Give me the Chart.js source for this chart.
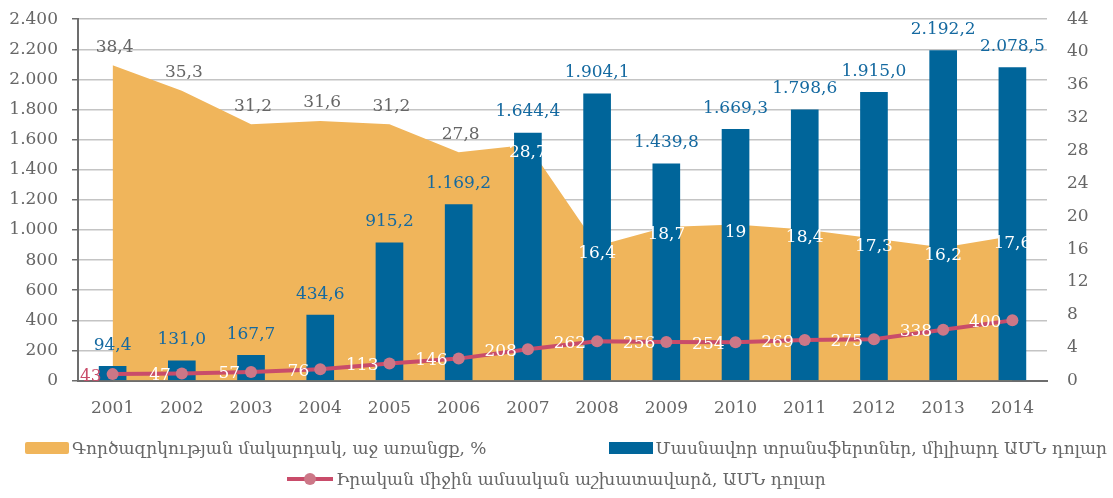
<!DOCTYPE html>
<html>
<head>
<meta charset="utf-8">
<title>Transfers</title>
<script src="https://cdn.jsdelivr.net/npm/chart.js@4.4.1/dist/chart.umd.min.js"></script>
<style>
  body { margin: 0; background: #fff; }
  #wrap { width: 1113px; height: 498px; position: relative; overflow: hidden; }
  #chart { position: absolute; left: 0; top: -11px; }
  .legend { position: absolute; left: 0; top: 432px; width: 1113px;
            font-family: 'DejaVu Serif', 'DejaVu Sans', serif; font-size: 17px; color: #666; }
  .row { display: flex; align-items: center; height: 31px; }
  .row1 { justify-content: space-between; padding: 0 6px 0 25px; }
  .row2 { justify-content: center; }
  .item { display: flex; align-items: center; white-space: nowrap; }
  .sw { display: inline-block; width: 44px; height: 12px; margin-right: 3px; border-radius: 2px; }
  .ln { position: relative; width: 46px; height: 4px; margin-right: 3px; }
  .ln i { position: absolute; left: 17px; top: -4px; width: 12px; height: 12px; border-radius: 50%; }
</style>
</head>
<body>
<div id="wrap">
  <canvas id="chart" width="1113" height="509"></canvas>
  <div class="legend" id="legend"></div>
</div>
<script>
// years and series
var years = ["2001","2002","2003","2004","2005","2006","2007","2008","2009","2010","2011","2012","2013","2014"];
var unemployment = [38.4, 35.3, 31.2, 31.6, 31.2, 27.8, 28.7, 16.4, 18.7, 19, 18.4, 17.3, 16.2, 17.6];
var transfers = [94.4, 131.0, 167.7, 434.6, 915.2, 1169.2, 1644.4, 1904.1, 1439.8, 1669.3, 1798.6, 1915.0, 2192.2, 2078.5];
var wages = [43, 47, 57, 76, 113, 146, 208, 262, 256, 254, 269, 275, 338, 400];

var seriesNames = [
  "Գործազրկության մակարդակ, աջ առանցք, %",
  "Մասնավոր տրանսֆերտներ, միլիարդ ԱՄՆ դոլար",
  "Իրական միջին ամսական աշխատավարձ, ԱՄՆ դոլար"
];

var FONT = "'DejaVu Serif', 'DejaVu Sans', serif";
var ORANGE = '#f0b55b', BLUE = '#00659a', PINK = '#c94c6a', PINK_DOT = '#cc7787', GREY = '#666666';

function thousands(s) {
  var parts = s.split('.');
  parts[0] = parts[0].replace(/\B(?=(\d{3})+(?!\d))/g, '.');
  return parts.join(',');
}

// draws the value labels like the excel original
var valueLabels = {
  id: 'valueLabels',
  afterDatasetsDraw: function(chart) {
    var ctx = chart.ctx;
    ctx.save();
    ctx.font = '17px ' + FONT;
    ctx.textBaseline = 'middle';

    var area = chart.getDatasetMeta(0).data;
    ctx.textAlign = 'center';
    area.forEach(function(p, i) {
      var txt = String(unemployment[i]).replace('.', ',');
      if (i < 6) { ctx.fillStyle = GREY; ctx.fillText(txt, p.x + 2, p.y - 18); }
      else { ctx.fillStyle = '#fff'; ctx.fillText(txt, p.x, p.y + 8); }
    });

    var bars = chart.getDatasetMeta(1).data;
    ctx.fillStyle = '#1469a0';
    bars.forEach(function(b, i) {
      ctx.fillText(thousands(transfers[i].toFixed(1)), b.x, b.y - 21);
    });

    var pts = chart.getDatasetMeta(2).data;
    ctx.textAlign = 'right';
    pts.forEach(function(p, i) {
      ctx.fillStyle = i === 0 ? PINK : '#fff';
      ctx.fillText(String(wages[i]), p.x - 11, p.y + 2);
    });
    ctx.restore();
  }
};

var chart = new Chart(document.getElementById('chart').getContext('2d'), {
  data: {
    labels: years,
    datasets: [
      {
        type: 'line',
        label: seriesNames[0],
        data: unemployment,
        yAxisID: 'y1',
        backgroundColor: ORANGE,
        borderWidth: 0,
        pointRadius: 0,
        fill: 'origin',
        order: 3
      },
      {
        type: 'bar',
        label: seriesNames[1],
        data: transfers,
        yAxisID: 'y',
        backgroundColor: BLUE,
        barThickness: 27,
        order: 2
      },
      {
        type: 'line',
        label: seriesNames[2],
        data: wages,
        yAxisID: 'y',
        borderColor: PINK,
        borderWidth: 4,
        pointRadius: 6,
        pointBackgroundColor: PINK_DOT,
        pointBorderWidth: 0,
        fill: false,
        order: 1
      }
    ]
  },
  options: {
    responsive: false,
    animation: false,
    layout: { padding: { left: 8, right: 22, top: 0, bottom: 61 } },
    plugins: {
      legend: { display: false },
      tooltip: { enabled: false }
    },
    scales: {
      x: {
        grid: { display: false, drawTicks: false },
        border: { color: '#6d6d6d', width: 2 },
        ticks: { color: GREY, font: { family: FONT, size: 17 }, padding: 18 }
      },
      y: {
        position: 'left',
        min: 0, max: 2400,
        afterFit: function(s) { s.width = 70; },
        ticks: {
          stepSize: 200, color: GREY, padding: 14,
          font: { family: FONT, size: 17 },
          callback: function(v) { return thousands(String(v)); }
        },
        grid: { color: '#c4c4c4', lineWidth: 1.5, tickLength: 6, tickColor: '#6d6d6d' },
        border: { color: '#6d6d6d', width: 2 }
      },
      y1: {
        position: 'right',
        min: 0, max: 44,
        afterFit: function(s) { s.width = 44; },
        ticks: { stepSize: 4, color: GREY, padding: 20, font: { family: FONT, size: 17 } },
        grid: { display: false, drawTicks: false },
        border: { display: false }
      }
    }
  },
  plugins: [valueLabels]
});

// html legend, two rows like the original
var lg = document.getElementById('legend');
var ds = chart.data.datasets;
lg.innerHTML =
  '<div class="row row1">' +
    '<span class="item"><span class="sw" style="background:' + ds[0].backgroundColor + '"></span>' + ds[0].label + '</span>' +
    '<span class="item"><span class="sw" style="background:' + ds[1].backgroundColor + ';border-radius:0"></span>' + ds[1].label + '</span>' +
  '</div>' +
  '<div class="row row2">' +
    '<span class="item"><span class="ln" style="background:' + ds[2].borderColor + '"><i style="background:' + ds[2].pointBackgroundColor + '"></i></span>' + ds[2].label + '</span>' +
  '</div>';
</script>
</body>
</html>
